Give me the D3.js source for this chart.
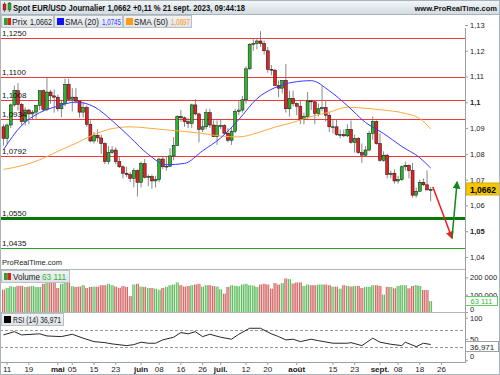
<!DOCTYPE html>
<html lang="fr">
<head>
<meta charset="UTF-8">
<title>Spot EUR/USD Journalier</title>
<script src="https://cdn.jsdelivr.net/npm/d3@7"></script>
<style>
  body { margin: 0; background: #fff; }
  svg { display: block; font-family: "Liberation Sans", Arial, sans-serif; }
</style>
</head>
<body>
<svg width="500" height="375"></svg>
<script>
// daily candles, 10 avr. -> 21 sept. 2023 (weekdays)
const opens = [1.0905,1.0860,1.0912,1.0990,1.1045,1.0992,1.0925,1.0970,1.0955,1.0962,
  1.0988,1.1045,1.0972,1.1040,1.1025,1.1020,1.0975,1.0995,1.1070,1.1012,
  1.1020,1.1005,1.0962,1.0980,1.0915,1.0850,1.0872,1.0862,1.0840,1.0770,
  1.0805,1.0815,1.0770,1.0750,1.0725,1.0720,1.0705,1.0735,1.0690,1.0762,
  1.0709,1.0712,1.0695,1.0700,1.0780,1.0750,1.0752,1.0792,1.0833,1.0945,
  1.0940,1.0925,1.0918,1.0990,1.0955,1.0895,1.0905,1.0960,1.0912,1.0867,
  1.0910,1.0910,1.0880,1.0853,1.0888,1.0965,1.0970,1.1010,1.1130,1.1225,
  1.1228,1.1238,1.1228,1.1200,1.1128,1.1125,1.1065,1.1055,1.1085,1.0975,
  1.1015,1.0995,1.0985,1.0935,1.0945,1.1005,1.1002,1.0957,1.0975,1.0980,
  1.0950,1.0905,1.0905,1.0875,1.0875,1.0870,1.0895,1.0845,1.0860,1.0805,
  1.0795,1.0815,1.0880,1.0925,1.0840,1.0775,1.0795,1.0720,1.0725,1.0695,
  1.0700,1.0750,1.0755,1.0735,1.0640,1.0655,1.0690,1.0680,1.0658];
const highs = [1.0915,1.0918,1.0996,1.1065,1.1075,1.0998,1.0980,1.0975,1.0970,1.0990,
  1.1045,1.1050,1.1095,1.1048,1.1050,1.1030,1.1010,1.1092,1.1092,1.1055,
  1.1055,1.1007,1.1000,1.0988,1.0930,1.0885,1.0895,1.0875,1.0845,1.0830,
  1.0830,1.0825,1.0790,1.0755,1.0750,1.0730,1.0745,1.0740,1.0770,1.0780,
  1.0720,1.0720,1.0715,1.0785,1.0790,1.0790,1.0822,1.0865,1.0950,1.0970,
  1.0945,1.0940,1.0995,1.1012,1.0960,1.0935,1.0975,1.0975,1.0930,1.0930,
  1.0935,1.0915,1.0900,1.0900,1.0975,1.1005,1.1025,1.1140,1.1230,1.1245,
  1.1245,1.1276,1.1240,1.1215,1.1145,1.1130,1.1085,1.1085,1.1149,1.1045,
  1.1045,1.1000,1.1005,1.0960,1.1040,1.1010,1.1005,1.0995,1.1065,1.1005,
  1.0960,1.0935,1.0935,1.0895,1.0895,1.0915,1.0930,1.0875,1.0865,1.0840,
  1.0830,1.0890,1.0945,1.0930,1.0880,1.0810,1.0800,1.0735,1.0740,1.0715,
  1.0755,1.0770,1.0760,1.0765,1.0670,1.0700,1.0705,1.0736,1.0672];
const lows = [1.0832,1.0838,1.0900,1.0982,1.0968,1.0910,1.0910,1.0915,1.0935,1.0936,
  1.0970,1.0965,1.0966,1.0995,1.0960,1.0965,1.0942,1.0985,1.1008,1.0965,
  1.0996,1.0941,1.0940,1.0905,1.0845,1.0840,1.0845,1.0800,1.0760,1.0760,
  1.0800,1.0760,1.0745,1.0705,1.0710,1.0690,1.0670,1.0635,1.0670,1.0705,
  1.0675,1.0665,1.0670,1.0690,1.0740,1.0735,1.0750,1.0775,1.0830,1.0925,
  1.0905,1.0900,1.0900,1.0950,1.0845,1.0885,1.0895,1.0900,1.0865,1.0835,
  1.0895,1.0875,1.0845,1.0835,1.0880,1.0950,1.0960,1.0995,1.1125,1.1200,
  1.1205,1.1215,1.1185,1.1115,1.1105,1.1065,1.1020,1.1035,1.0960,1.0945,
  1.0985,1.0950,1.0915,1.0915,1.0935,1.0970,1.0915,1.0945,1.0965,1.0925,
  1.0885,1.0880,1.0870,1.0860,1.0865,1.0865,1.0840,1.0805,1.0800,1.0765,
  1.0790,1.0810,1.0855,1.0835,1.0770,1.0770,1.0705,1.0705,1.0685,1.0685,
  1.0695,1.0735,1.0705,1.0630,1.0630,1.0655,1.0675,1.0660,1.0616];
const closes = [1.0860,1.0912,1.0990,1.1045,1.0992,1.0925,1.0970,1.0955,1.0962,1.0988,
  1.1045,1.0972,1.1040,1.1025,1.1020,1.0975,1.0995,1.1070,1.1012,1.1020,
  1.1005,1.0962,1.0980,1.0915,1.0850,1.0872,1.0862,1.0840,1.0770,1.0805,
  1.0815,1.0770,1.0750,1.0725,1.0720,1.0705,1.0735,1.0690,1.0762,1.0709,
  1.0712,1.0695,1.0700,1.0780,1.0750,1.0752,1.0792,1.0833,1.0945,1.0940,
  1.0925,1.0918,1.0990,1.0955,1.0895,1.0905,1.0960,1.0912,1.0867,1.0910,
  1.0910,1.0880,1.0853,1.0888,1.0965,1.0970,1.1010,1.1130,1.1225,1.1228,
  1.1238,1.1228,1.1200,1.1128,1.1125,1.1065,1.1055,1.1085,1.0975,1.1015,
  1.0995,1.0985,1.0935,1.0945,1.1005,1.1002,1.0957,1.0975,1.0980,1.0950,
  1.0905,1.0905,1.0875,1.0875,1.0870,1.0895,1.0845,1.0860,1.0805,1.0795,
  1.0815,1.0880,1.0925,1.0840,1.0775,1.0795,1.0720,1.0725,1.0695,1.0700,
  1.0750,1.0755,1.0735,1.0640,1.0655,1.0690,1.0680,1.0660,1.0662];
const volumes = [129000,139000,149000,145000,151000,151000,145000,147000,151000,145000,
  145000,163000,173000,171000,173000,139000,163000,175000,186000,149000,
  145000,147000,155000,139000,145000,147000,147000,155000,155000,163000,
  155000,147000,140000,150000,145000,92000,159000,163000,147000,145000,
  139000,139000,135000,129000,139000,145000,155000,159000,171000,155000,
  147000,150000,155000,159000,163000,147000,155000,155000,150000,147000,
  131000,106000,145000,155000,151000,149000,159000,163000,155000,153000,
  145000,159000,163000,159000,135000,167000,159000,167000,194000,190000,
  165000,171000,171000,151000,159000,155000,155000,159000,159000,159000,
  155000,147000,147000,135000,155000,151000,147000,151000,151000,139000,
  145000,145000,155000,155000,151000,100000,145000,145000,137000,151000,
  155000,155000,137000,151000,155000,151000,127000,127000,63111];

// moving averages (day index -> value)
const smaDays = [0,5,10,15,20,25,30,35,40,45,50,55,60,65,70,75,80,85,90,95,100,105,110,115,118];
const sma20 = [1.0817,1.0910,1.0960,1.0985,1.1001,1.0983,1.0929,1.0864,1.0798,1.0758,1.0763,1.0812,
  1.0862,1.0933,1.1014,1.1057,1.1078,1.1084,1.1045,1.0987,1.0922,1.0879,1.0829,1.0785,1.0745];
const sma50 = [1.0740,1.0754,1.0777,1.0810,1.0841,1.0875,1.0898,1.0905,1.0900,1.0893,1.0887,1.0879,
  1.0869,1.0866,1.0881,1.0904,1.0922,1.0945,1.0962,1.0981,1.0977,1.0970,1.0960,1.0937,1.0897];

// RSI (14)
const rsiDays = [0,3,5,10,12,16,19,22,25,28,30,34,36,38,40,42,44,47,49,51,53,55,57,60,63,65,68,71,74,76,
  78,80,82,85,87,91,95,96,99,102,104,107,110,111,114,116,118];
const rsiValues = [59.5,67,59.5,62,57,55.5,61,51.8,43.8,41.4,38.4,34.4,36.7,42.4,40,40,47.8,54,65,62,
  67,55.5,61,54,49.4,61,75,75,62,55.5,47.8,49.4,43.8,49.4,46,40,40,41.4,34.4,51.8,42.4,37.6,34.4,42.4,32,40,36.97];

// horizontal levels
const redLevels = [1.1250, 1.1100, 1.1008, 1.0934, 1.0792];
const greenLevels = [1.0550, 1.0435];

// x axis ticks
const tickDates = ["2023-04-11","2023-04-19","2023-05-01","2023-05-05","2023-05-15","2023-05-23",
  "2023-06-01","2023-06-08","2023-06-16","2023-06-26","2023-07-03","2023-07-12","2023-07-20",
  "2023-08-01","2023-08-15","2023-08-23","2023-09-01","2023-09-08","2023-09-18","2023-09-26"];
const tickLabels = ["11","19","mai","05","15","23","juin","08","16","26","juil.","12","20",
  "août","15","23","sept.","08","18","26"];
const monthLabels = ["mai","juin","juil.","août","sept."];

// forecast arrows (day index, price)
const arrowDown = [[118.6, 1.0672], [123.9, 1.0474]];
const arrowUp = [[123.9, 1.0474], [125.3, 1.0690]];

const svg = d3.select("svg");
const font = "Liberation Sans, Arial, sans-serif";
const start = new Date(2023, 3, 10);
const isWeekday = d => d.getDay() % 6 !== 0;
const dayIndex = s => d3.timeDay.range(start, d3.timeParse("%Y-%m-%d")(s)).filter(isWeekday).length;

const x = d3.scaleLinear().domain([0, 118]).range([3.5, 3.5 + 118 * 3.62]);
const y = d3.scaleLinear().domain([1.04, 1.13]).range([257, 25]);
const vy = d3.scaleLinear().domain([0, 200000]).range([312, 277.4]);
const ry = d3.scaleLinear().domain([0, 100]).range([360.3, 317.6]);
const comma = v => d3.format(".2~f")(v).replace(".", ",");

const defs = svg.append("defs");
function grad(id, stops, vertical) {
  const g = defs.append("linearGradient").attr("id", id)
    .attr("x1", 0).attr("y1", 0).attr("x2", vertical ? 0 : 1).attr("y2", vertical ? 1 : 0);
  stops.forEach((c, i) => g.append("stop").attr("offset", i / (stops.length - 1)).attr("stop-color", c));
}
grad("hdr", ["#f4f7f9", "#d3dce2"], true);
grad("box", ["#f2f4f6", "#dde2e6"], true);
grad("vgreen", ["#2a9e2a", "#c4efc4", "#2a9e2a"]);
grad("vred", ["#c23434", "#f3c4c4", "#c23434"]);
defs.append("clipPath").attr("id", "clipPrice").append("rect")
  .attr("x", 0).attr("y", 28).attr("width", 465).attr("height", 240);
[["headRed", "#ee2020"], ["headGreen", "#11881a"]].forEach(([id, c]) => {
  defs.append("marker").attr("id", id).attr("viewBox", "0 0 10 10")
    .attr("refX", 8).attr("refY", 5).attr("markerWidth", 8).attr("markerHeight", 8)
    .attr("markerUnits", "userSpaceOnUse").attr("orient", "auto")
    .append("path").attr("d", "M0,0L10,5L0,10z").attr("fill", c);
});

function txt(g, px, py, s, o = {}) {
  const t = g.append("text").attr("x", px).attr("y", py).text(s)
    .attr("font-family", font).attr("font-size", o.size || 8)
    .attr("fill", o.fill || "#111").attr("text-anchor", o.anchor || "start");
  if (o.bold) t.attr("font-weight", "bold");
  if (o.len) t.attr("textLength", o.len).attr("lengthAdjust", "spacingAndGlyphs");
  return t;
}

// header bar
svg.append("rect").attr("x", 0).attr("y", 0).attr("width", 500).attr("height", 14).attr("fill", "url(#hdr)");
svg.append("line").attr("x1", 0).attr("x2", 500).attr("y1", 14.5).attr("y2", 14.5).attr("stroke", "#a9b3ba");
const icon = svg.append("g");
icon.append("line").attr("x1", 4.5).attr("x2", 4.5).attr("y1", 2).attr("y2", 12).attr("stroke", "#333").attr("stroke-width", 0.6);
icon.append("rect").attr("x", 3).attr("y", 4).attr("width", 3).attr("height", 6).attr("fill", "#e02020").attr("stroke", "#222").attr("stroke-width", 0.4);
icon.append("line").attr("x1", 9.5).attr("x2", 9.5).attr("y1", 2).attr("y2", 12).attr("stroke", "#333").attr("stroke-width", 0.6);
icon.append("rect").attr("x", 8).attr("y", 3).attr("width", 3).attr("height", 7).attr("fill", "#2bb02b").attr("stroke", "#222").attr("stroke-width", 0.4);
txt(svg, 13, 10.5, "Spot EUR/USD Journalier 1,0662 +0,11 % 21 sept. 2023, 09:44:18", { bold: true, size: 8.5, len: 232 });
txt(svg, 497, 10.5, "www.ProRealTime.com", { bold: true, size: 7.5, anchor: "end" });

// legend boxes
function legendBox(x0, w, name, nameLen, value, valueLen, valueColor, sw) {
  const g = svg.append("g");
  g.append("rect").attr("x", x0 + 0.5).attr("y", 15.5).attr("width", w).attr("height", 12)
    .attr("fill", "url(#box)").attr("stroke", "#b9c0c6");
  sw(g, x0 + 3);
  txt(g, x0 + 11, 24.5, name, { size: 8.5, len: nameLen, fill: "#222" });
  txt(g, x0 + 14 + nameLen, 24.5, value, { size: 8.5, len: valueLen, fill: valueColor });
}
legendBox(1, 52, "Prix", 15, "1,0662", 22, "#222", (g, px) => {
  g.append("rect").attr("x", px).attr("y", 18).attr("width", 3.5).attr("height", 7).attr("fill", "#2aa52a");
  g.append("rect").attr("x", px + 3.5).attr("y", 18).attr("width", 3.5).attr("height", 7).attr("fill", "#e02020");
});
legendBox(54, 68, "SMA (20)", 34, "1,0745", 19, "#3c3cff", (g, px) => {
  g.append("rect").attr("x", px).attr("y", 18).attr("width", 7).attr("height", 7).attr("fill", "#1010ff");
});
legendBox(123, 68, "SMA (50)", 34, "1,0897", 19, "#ff9a1a", (g, px) => {
  g.append("rect").attr("x", px).attr("y", 18).attr("width", 7).attr("height", 7).attr("fill", "#ff9a1a");
});

// price panel
const price = svg.append("g").attr("clip-path", "url(#clipPrice)");
price.selectAll(".lvlR").data(redLevels).join("line")
  .attr("x1", 0).attr("x2", 465).attr("y1", d => Math.round(y(d)) + 0.5).attr("y2", d => Math.round(y(d)) + 0.5)
  .attr("stroke", "#f03a3a").attr("stroke-width", 1);
price.selectAll(".lvlG").data(greenLevels).join("line")
  .attr("x1", 0).attr("x2", 465).attr("y1", d => Math.round(y(d)) + 0.5).attr("y2", d => Math.round(y(d)) + 0.5)
  .attr("stroke", (d, i) => i === 0 ? "#08780d" : "#2f9f2f").attr("stroke-width", (d, i) => i === 0 ? 3 : 1);
redLevels.concat(greenLevels).forEach(v => {
  txt(svg, 2, Math.round(y(v)) - 2.5, d3.format(".4f")(v).replace(".", ","), { size: 8, fill: "#111" });
});
txt(svg, 2, 265, "ProRealTime.com", { size: 8, fill: "#222", len: 60 });

const idx = d3.range(opens.length);
price.selectAll(".wick").data(idx).join("line")
  .attr("x1", i => x(i)).attr("x2", i => x(i))
  .attr("y1", i => y(highs[i])).attr("y2", i => y(lows[i]))
  .attr("stroke", "#6a6a6a").attr("stroke-width", 0.8);
price.selectAll(".body").data(idx).join("rect")
  .attr("x", i => x(i) - 1.5).attr("width", 3)
  .attr("y", i => y(Math.max(opens[i], closes[i])))
  .attr("height", i => Math.max(0.8, Math.abs(y(opens[i]) - y(closes[i]))))
  .attr("fill", i => closes[i] >= opens[i] ? "#2db42d" : "#e02222")
  .attr("stroke", "#111").attr("stroke-width", 0.5);

const smaLine = d3.line().x((d, i) => x(smaDays[i])).y(d => y(d)).curve(d3.curveMonotoneX);
price.append("path").attr("d", smaLine(sma50)).attr("fill", "none").attr("stroke", "#ffab40").attr("stroke-width", 1);
price.append("path").attr("d", smaLine(sma20)).attr("fill", "none").attr("stroke", "#3a3aff").attr("stroke-width", 1);

const arrowLine = d3.line().x(d => x(d[0])).y(d => y(d[1]));
svg.append("path").attr("d", arrowLine(arrowDown)).attr("stroke", "#ee2020").attr("stroke-width", 1.5)
  .attr("fill", "none").attr("marker-end", "url(#headRed)");
svg.append("path").attr("d", arrowLine(arrowUp)).attr("stroke", "#11881a").attr("stroke-width", 1.5)
  .attr("fill", "none").attr("marker-end", "url(#headGreen)");

// right axes
const axisStyle = g => {
  g.select(".domain").remove();
  g.selectAll(".tick line").attr("stroke", "#999");
  g.selectAll(".tick text").attr("font-family", font).attr("font-size", 7.5).attr("fill", "#222");
};
const pa = svg.append("g").attr("transform", "translate(465,0)")
  .call(d3.axisRight(y).tickValues(d3.range(104, 114).map(v => v / 100)).tickSize(3).tickPadding(2).tickFormat(comma))
  .call(axisStyle);
pa.selectAll(".tick text").attr("font-weight", d => (d === 1.1 || d === 1.05) ? "bold" : null);

svg.append("line").attr("x1", 0).attr("x2", 465).attr("y1", 269.5).attr("y2", 269.5).attr("stroke", "#b0b6bb");
svg.append("line").attr("x1", 0).attr("x2", 465).attr("y1", 312.5).attr("y2", 312.5).attr("stroke", "#b0b6bb");

// volume
svg.selectAll(".vol").data(idx).join("rect")
  .attr("x", i => x(i) - 1.4).attr("width", 2.8)
  .attr("y", i => vy(volumes[i])).attr("height", i => vy(0) - vy(volumes[i]))
  .attr("fill", i => closes[i] >= opens[i] ? "url(#vgreen)" : "url(#vred)");
svg.append("g").attr("transform", "translate(465,0)")
  .call(d3.axisRight(vy).tickValues([0, 100000, 200000]).tickSize(3).tickPadding(2)
    .tickFormat(d => d3.format(",")(d).replace(/,/g, " ")))
  .call(axisStyle)
  .selectAll(".tick text").attr("dy", d => d === 0 ? "-0.05em" : "0.32em");
const vh = svg.append("g");
vh.append("rect").attr("x", 1.5).attr("y", 270.5).attr("width", 68).attr("height", 12)
  .attr("fill", "url(#box)").attr("stroke", "#b9c0c6");
vh.append("rect").attr("x", 4).attr("y", 273).attr("width", 3.5).attr("height", 7).attr("fill", "#2aa52a");
vh.append("rect").attr("x", 7.5).attr("y", 273).attr("width", 3.5).attr("height", 7).attr("fill", "#e02020");
txt(vh, 13, 280, "Volume", { size: 8.5, len: 27, fill: "#222" });
txt(vh, 42, 280, "63 111", { size: 8.5, len: 24, fill: "#33b833" });
svg.append("rect").attr("x", 465.5).attr("y", 296.5).attr("width", 32).attr("height", 9)
  .attr("fill", "#fff").attr("stroke", "#5fcf5f");
txt(svg, 481.5, 303.8, "63 111", { size: 7.5, fill: "#33b833", anchor: "middle" });

// RSI
[30, 70].forEach(v => svg.append("line").attr("x1", 0).attr("x2", 465)
  .attr("y1", Math.round(ry(v)) + 0.5).attr("y2", Math.round(ry(v)) + 0.5)
  .attr("stroke", "#999").attr("stroke-dasharray", "3,2"));
svg.append("path")
  .attr("d", d3.line().x((d, i) => x(rsiDays[i])).y(d => ry(d))(rsiValues))
  .attr("fill", "none").attr("stroke", "#111").attr("stroke-width", 0.9);
svg.append("g").attr("transform", "translate(465,0)")
  .call(d3.axisRight(ry).tickValues([0, 50, 100]).tickSize(3).tickPadding(2))
  .call(axisStyle)
  .selectAll(".tick text").attr("dy", d => d === 0 ? "-0.2em" : "0.32em");
const rh = svg.append("g");
rh.append("rect").attr("x", 1.5).attr("y", 313.5).attr("width", 62).attr("height", 12)
  .attr("fill", "url(#box)").attr("stroke", "#b9c0c6");
rh.append("rect").attr("x", 4).attr("y", 316).attr("width", 7).attr("height", 7).attr("fill", "#000");
txt(rh, 13, 323, "RSI (14) 36,971", { size: 8.5, len: 48, fill: "#222" });
svg.append("rect").attr("x", 465.5).attr("y", 341.5).attr("width", 33).attr("height", 10)
  .attr("fill", "#fff").attr("stroke", "#9aa2a8");
txt(svg, 482, 349.5, "36,971", { size: 8, fill: "#222", anchor: "middle" });

// current price tag
svg.append("rect").attr("x", 466).attr("y", Math.round(y(1.0662)) - 6).attr("width", 34).attr("height", 12)
  .attr("fill", "#f6c700").attr("stroke", "#d8ad00");
txt(svg, 483, Math.round(y(1.0662)) + 3.5, "1,0662", { size: 8.5, bold: true, anchor: "middle", fill: "#000" });

// x axis
svg.append("line").attr("x1", 0).attr("x2", 465).attr("y1", 362.5).attr("y2", 362.5).attr("stroke", "#9aa2a8");
const xt = svg.append("g").selectAll("g").data(tickDates).join("g")
  .attr("transform", d => `translate(${x(dayIndex(d))},0)`);
xt.append("line").attr("y1", 363).attr("y2", 365).attr("stroke", "#999");
xt.append("text").attr("y", 372).attr("text-anchor", "middle")
  .attr("font-family", font).attr("font-size", 8).attr("fill", "#222")
  .attr("font-weight", (d, i) => monthLabels.includes(tickLabels[i]) ? "bold" : null)
  .text((d, i) => tickLabels[i]);

// frame
svg.append("line").attr("x1", 465.5).attr("x2", 465.5).attr("y1", 28).attr("y2", 363).attr("stroke", "#9aa2a8");
svg.append("rect").attr("x", 0.5).attr("y", 0.5).attr("width", 499).attr("height", 374)
  .attr("fill", "none").attr("stroke", "#a9b3ba");
</script>
</body>
</html>
